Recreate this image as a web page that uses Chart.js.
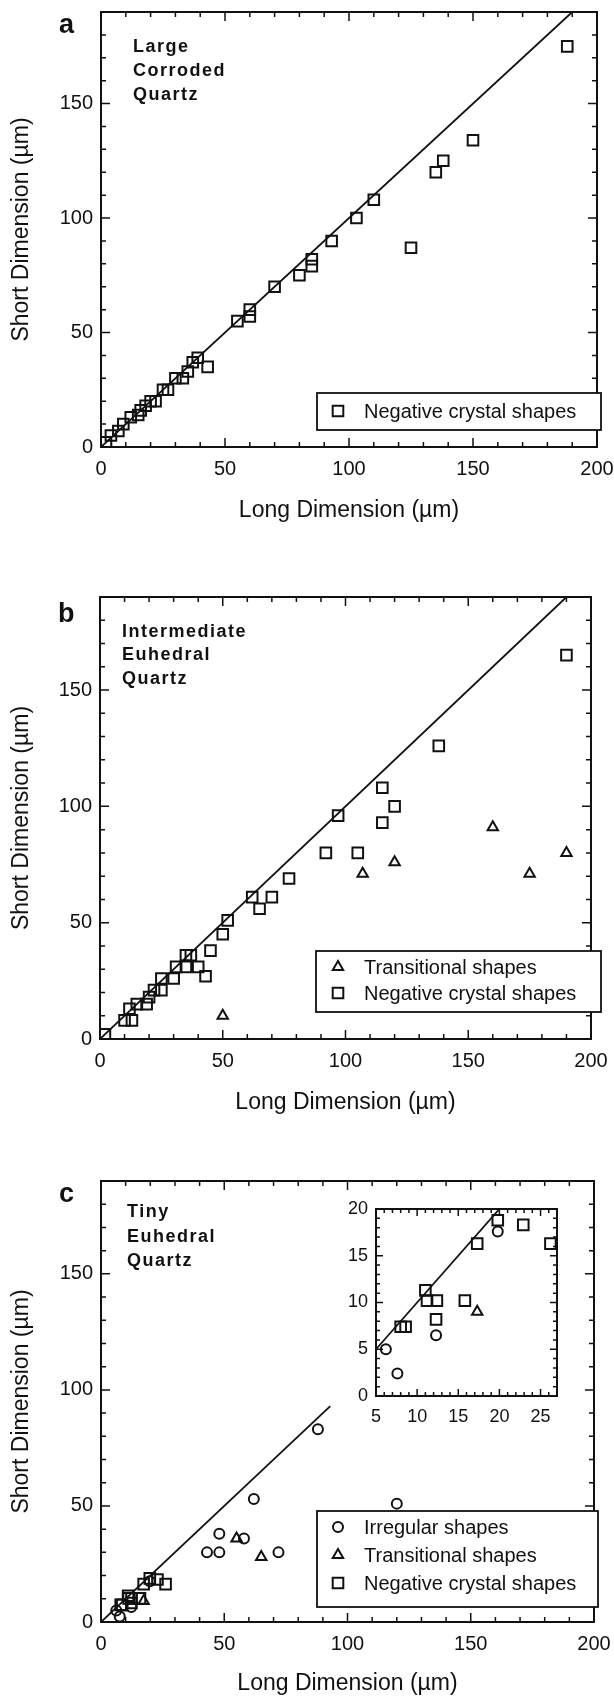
<!DOCTYPE html>
<html>
<head>
<meta charset="utf-8">
<script src="https://cdn.jsdelivr.net/npm/chart.js@4.4.1/dist/chart.umd.min.js"></script>
<style>
  body { margin: 0; background: #fff; width: 614px; height: 1697px; position: relative; overflow: hidden; }
  canvas { position: absolute; }
</style>
</head>
<body>
<canvas id="chart-a" style="left:0;top:0" width="614" height="524"></canvas>
<canvas id="chart-b" style="left:0;top:560px" width="614" height="556"></canvas>
<canvas id="chart-c" style="left:0;top:1140px" width="614" height="557"></canvas>
<canvas id="chart-inset" style="left:330px;top:1195px" width="240" height="240"></canvas>
<script>
// panel a - large corroded quartz (negative crystal shapes only)
const largeLong  = [2, 4, 7, 9, 12, 15, 16, 18, 20, 22, 25, 27, 30, 33, 35, 37, 39, 43, 55, 60, 60, 70, 80, 85, 85, 93, 103, 110, 125, 135, 138, 150, 188];
const largeShort = [2, 5, 7, 10, 13, 14, 16, 18, 20, 20, 25, 25, 30, 30, 33, 37, 39, 35, 55, 60, 57, 70, 75, 82, 79, 90, 100, 108, 87, 120, 125, 134, 175];

// panel b - intermediate euhedral quartz
const interNegLong  = [2, 10, 13, 12, 15, 19, 20, 22, 25, 25, 30, 31, 35, 35, 37, 40, 43, 45, 50, 52, 62, 65, 70, 77, 92, 97, 105, 115, 115, 120, 138, 190];
const interNegShort = [2, 8, 8, 13, 15, 15, 18, 21, 21, 26, 26, 31, 31, 36, 36, 31, 27, 38, 45, 51, 61, 56, 61, 69, 80, 96, 80, 93, 108, 100, 126, 165];
const interTransLong  = [50, 107, 120, 160, 175, 190];
const interTransShort = [10, 71, 76, 91, 71, 80];

// panel c - tiny euhedral quartz
const tinyIrrLong  = [6.2, 7.6, 12.3, 19.8, 43, 48, 48, 58, 62, 72, 88, 120];
const tinyIrrShort = [5, 2.4, 6.5, 17.6, 30, 30, 38, 36, 53, 30, 83, 51];
const tinyTransLong  = [17.3, 55, 65];
const tinyTransShort = [9, 36, 28];
const tinyNegLong  = [8, 8.6, 11, 11.2, 12.4, 12.3, 15.8, 17.3, 19.8, 22.9, 26.2];
const tinyNegShort = [7.4, 7.4, 11.3, 10.2, 10.2, 8.2, 10.2, 16.3, 18.8, 18.3, 16.3];

// 1:1 reference lines
const lineAB = [0, 190];
const lineC = [0, 93];
const lineInset = [5, 20];

// tick labels
const mainXTicks = [0, 50, 100, 150, 200];
const mainYTicks = [0, 50, 100, 150];
const insetXTicks = [5, 10, 15, 20, 25];
const insetYTicks = [0, 5, 10, 15, 20];

const FONT = '"Liberation Sans", Arial, Helvetica, sans-serif';
const INK = '#111';

const pts = (xs, ys) => xs.map((v, i) => ({x: v, y: ys[i]}));

function marks(label, xs, ys, style) {
  const r = style === 'rect' ? 7.5 : style === 'triangle' ? 6 : 5;
  return {
    label: label, data: pts(xs, ys), showLine: false, legend: true,
    pointStyle: style, pointRadius: r, pointBorderWidth: 2,
    borderColor: INK, backgroundColor: 'rgba(0,0,0,0)'
  };
}

function diag(vals) {
  return {
    data: pts(vals, vals), showLine: true, pointRadius: 0,
    borderColor: INK, borderWidth: 1.8, fill: false
  };
}

function drawMarker(ctx, style, x, y, r) {
  ctx.beginPath();
  if (style === 'rect') {
    const s = r * Math.SQRT1_2;
    ctx.rect(x - s, y - s, 2 * s, 2 * s);
  } else if (style === 'triangle') {
    let a = 0;
    ctx.moveTo(x + Math.sin(a) * r, y - Math.cos(a) * r);
    a += Math.PI * 2 / 3;
    ctx.lineTo(x + Math.sin(a) * r, y - Math.cos(a) * r);
    a += Math.PI * 2 / 3;
    ctx.lineTo(x + Math.sin(a) * r, y - Math.cos(a) * r);
    ctx.closePath();
  } else {
    ctx.arc(x, y, r, 0, Math.PI * 2);
  }
  ctx.stroke();
}

// border box + inward ticks on all four sides
const frame = {
  id: 'frame',
  afterDatasetsDraw(chart, args, o) {
    const {ctx, chartArea: a, scales: {x, y}} = chart;
    ctx.save();
    ctx.strokeStyle = INK;
    ctx.lineWidth = 2;
    ctx.strokeRect(a.left, a.top, a.right - a.left, a.bottom - a.top);
    ctx.lineWidth = 1.5;
    ctx.beginPath();
    for (let v = Math.ceil(x.min / o.minor) * o.minor; v <= x.max + 1e-9; v += o.minor) {
      const px = x.getPixelForValue(v);
      const len = Math.abs(v % o.xMajor) < 1e-6 ? o.majorLen : o.minorLen;
      ctx.moveTo(px, a.bottom); ctx.lineTo(px, a.bottom - len);
      ctx.moveTo(px, a.top); ctx.lineTo(px, a.top + len);
    }
    for (let v = Math.ceil(y.min / o.minor) * o.minor; v <= y.max + 1e-9; v += o.minor) {
      const py = y.getPixelForValue(v);
      const len = Math.abs(v % o.yMajor) < 1e-6 ? o.majorLen : o.minorLen;
      ctx.moveTo(a.left, py); ctx.lineTo(a.left + len, py);
      ctx.moveTo(a.right, py); ctx.lineTo(a.right - len, py);
    }
    ctx.stroke();
    ctx.restore();
  }
};

// boxed legend and text notes
const notes = {
  id: 'notes',
  afterDraw(chart, args, o) {
    const ctx = chart.ctx;
    ctx.save();
    ctx.fillStyle = INK;
    ctx.textBaseline = 'alphabetic';
    (o.texts || []).forEach(t => {
      ctx.font = t.font;
      ctx.letterSpacing = t.spacing || '0px';
      ctx.fillText(t.text, t.x, t.y);
    });
    ctx.letterSpacing = '0px';
    const lg = o.legend;
    if (lg) {
      const [l, t, r, b] = lg.box;
      ctx.fillStyle = '#fff';
      ctx.fillRect(l, t, r - l, b - t);
      ctx.strokeStyle = INK;
      ctx.lineWidth = 1.8;
      ctx.strokeRect(l, t, r - l, b - t);
      ctx.fillStyle = INK;
      ctx.font = '20px ' + FONT;
      ctx.textBaseline = 'middle';
      const items = chart.data.datasets.filter(d => d.legend);
      items.forEach((d, i) => {
        ctx.lineWidth = 2;
        drawMarker(ctx, d.pointStyle, lg.markerX, lg.rows[i], d.pointRadius);
        ctx.fillText(d.label, lg.textX, lg.rows[i] + 1);
      });
    }
    ctx.restore();
  }
};

function axes(xr, yr, xTicks, yTicks, size, yWidth, xHeight, titles) {
  const tickFont = {family: FONT, size: size};
  const titleFont = {family: FONT, size: 23};
  const clear = s => { s.paddingLeft = 0; s.paddingRight = 0; s.paddingTop = 0; s.paddingBottom = 0; };
  return {
    x: {
      type: 'linear', min: xr[0], max: xr[1],
      grid: {display: false, drawTicks: false}, border: {display: false},
      ticks: {font: tickFont, color: INK, padding: 10, maxRotation: 0},
      afterBuildTicks: s => { s.ticks = xTicks.map(v => ({value: v})); },
      afterFit: s => { s.height = xHeight; clear(s); },
      title: {display: titles, text: 'Long Dimension (µm)', font: titleFont, color: INK, padding: 0}
    },
    y: {
      type: 'linear', min: yr[0], max: yr[1],
      grid: {display: false, drawTicks: false}, border: {display: false},
      ticks: {font: tickFont, color: INK, padding: 8},
      afterBuildTicks: s => { s.ticks = yTicks.map(v => ({value: v})); },
      afterFit: s => { s.width = yWidth; clear(s); },
      title: {display: titles, text: 'Short Dimension (µm)', font: titleFont, color: INK, padding: {top: 8, bottom: 0}}
    }
  };
}

function panel(id, datasets, scales, pad, frameOpts, noteOpts) {
  return new Chart(document.getElementById(id), {
    type: 'scatter',
    data: {datasets: datasets},
    options: {
      responsive: false, animation: false, events: [],
      layout: {padding: pad},
      scales: scales,
      plugins: {legend: {display: false}, tooltip: {enabled: false}, frame: frameOpts, notes: noteOpts}
    },
    plugins: [frame, notes]
  });
}

const mainFrame = {minor: 10, xMajor: 50, yMajor: 50, majorLen: 9, minorLen: 5};
const bold = 'bold 18px ' + FONT;
const letter = 'bold 27px ' + FONT;
const label = (text, x, y) => ({text: text, x: x, y: y, font: bold, spacing: '1.5px'});

panel('chart-a',
  [diag(lineAB), marks('Negative crystal shapes', largeLong, largeShort, 'rect')],
  axes([0, 200], [0, 190], mainXTicks, mainYTicks, 20, 101, 77, true),
  {top: 12, right: 17, left: 0, bottom: 0}, mainFrame,
  {
    texts: [{text: 'a', x: 59, y: 33, font: letter}, label('Large', 133, 52), label('Corroded', 133, 76), label('Quartz', 133, 100)],
    legend: {box: [317, 393, 601, 430], rows: [411], markerX: 338, textX: 364}
  });

panel('chart-b',
  [diag(lineAB), marks('Transitional shapes', interTransLong, interTransShort, 'triangle'),
   marks('Negative crystal shapes', interNegLong, interNegShort, 'rect')],
  axes([0, 200], [0, 190], mainXTicks, mainYTicks, 20, 100, 77, true),
  {top: 37, right: 23, left: 0, bottom: 0}, mainFrame,
  {
    texts: [{text: 'b', x: 58, y: 62, font: letter}, label('Intermediate', 122, 77), label('Euhedral', 122, 100), label('Quartz', 122, 124)],
    legend: {box: [316, 391, 601, 452], rows: [407, 433], markerX: 338, textX: 364}
  });

panel('chart-c',
  [diag(lineC), marks('Irregular shapes', tinyIrrLong, tinyIrrShort, 'circle'),
   marks('Transitional shapes', tinyTransLong, tinyTransShort, 'triangle'),
   marks('Negative crystal shapes', tinyNegLong, tinyNegShort, 'rect')],
  axes([0, 200], [0, 190], mainXTicks, mainYTicks, 20, 101, 75, true),
  {top: 41, right: 20, left: 0, bottom: 0}, mainFrame,
  {
    texts: [{text: 'c', x: 59, y: 62, font: letter}, label('Tiny', 127, 77), label('Euhedral', 127, 102), label('Quartz', 127, 126)],
    legend: {box: [317, 371, 598, 467], rows: [387, 415, 443], markerX: 338, textX: 364}
  });

// inset of panel c: the smallest inclusions
panel('chart-inset',
  [diag(lineInset), marks('Irregular shapes', tinyIrrLong, tinyIrrShort, 'circle'),
   marks('Transitional shapes', tinyTransLong, tinyTransShort, 'triangle'),
   marks('Negative crystal shapes', tinyNegLong, tinyNegShort, 'rect')],
  axes([5, 27], [0, 20], insetXTicks, insetYTicks, 18, 46, 39, false),
  {top: 14, right: 13, left: 0, bottom: 0},
  {minor: 1, xMajor: 5, yMajor: 5, majorLen: 7, minorLen: 4},
  {});
</script>
</body>
</html>
